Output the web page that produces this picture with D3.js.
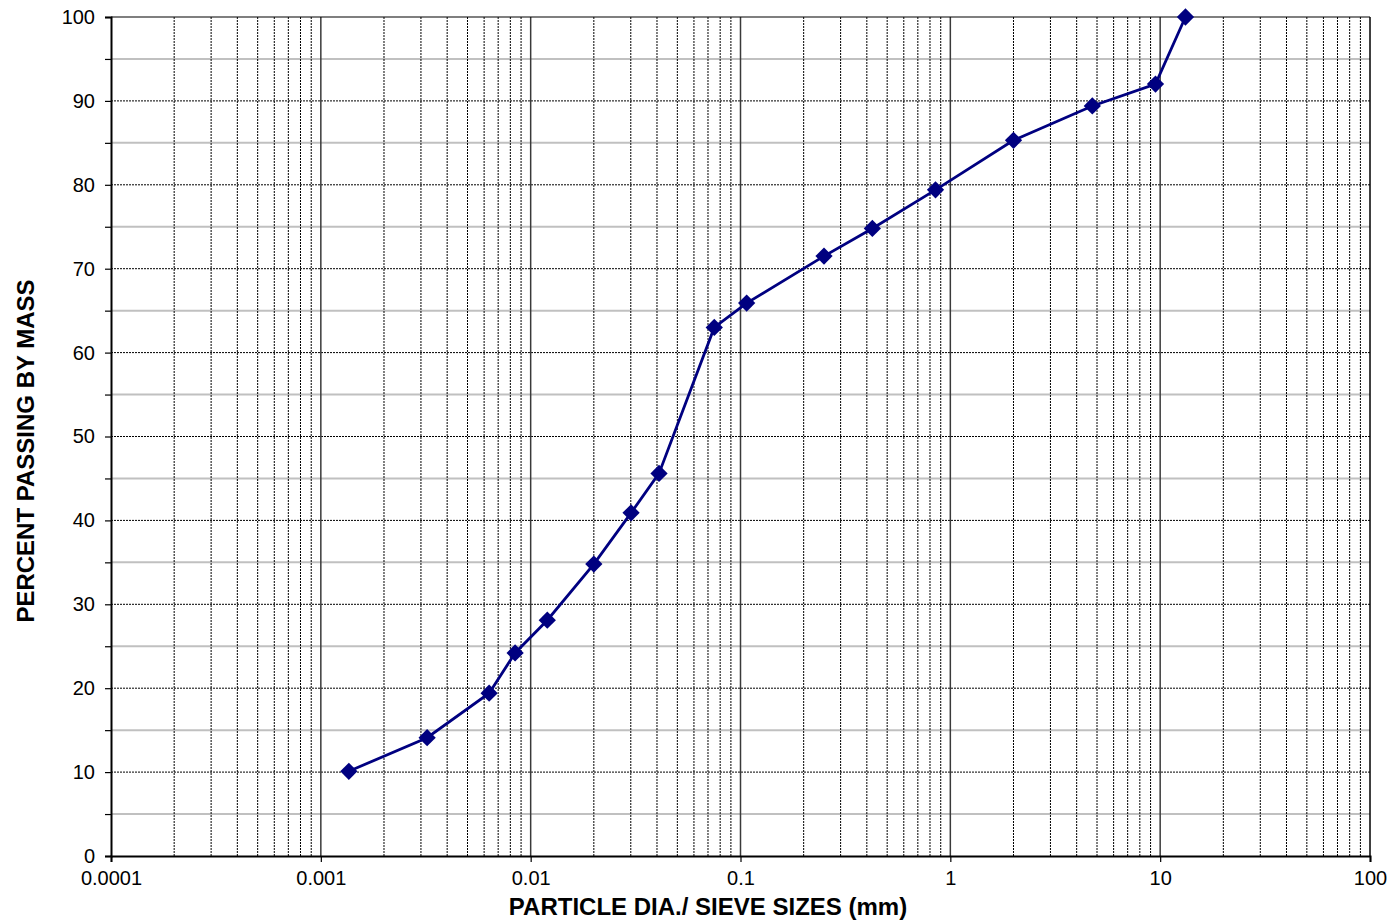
<!DOCTYPE html>
<html><head><meta charset="utf-8">
<script src="https://cdn.jsdelivr.net/npm/d3@7"></script>
<style>body{margin:0;background:#fff}svg{display:block}text{font-family:"Liberation Sans",Arial,sans-serif}</style>
</head><body>
<svg id="c" width="1392" height="922"></svg>
<script>
const sizes = [0.00136, 0.00321, 0.00634, 0.00843, 0.0120, 0.0200, 0.0301, 0.0409, 0.075, 0.107, 0.25, 0.425, 0.85, 2.0, 4.75, 9.5, 13.2];
const passing = [10.1, 14.1, 19.4, 24.2, 28.1, 34.8, 40.9, 45.6, 63.0, 65.9, 71.5, 74.8, 79.4, 85.3, 89.4, 92.0, 100];
const xTickLabels = ["0.0001", "0.001", "0.01", "0.1", "1", "10", "100"];
const yTickLabels = [0, 10, 20, 30, 40, 50, 60, 70, 80, 90, 100];

const svg = d3.select("#c");
const L = 111, R = 1370, T = 17, B = 856;
const x = d3.scaleLog().domain([0.0001, 100]).range([L, R]);
const y = d3.scaleLinear().domain([0, 100]).range([B, T]);

const g = svg.append("g");
for (let v = 5; v < 100; v += 10) {
  g.append("line").attr("x1", L).attr("x2", R).attr("y1", y(v)).attr("y2", y(v))
    .attr("stroke", "#c0c0c0").attr("stroke-width", 2);
}
for (let v = 10; v < 100; v += 10) {
  g.append("line").attr("x1", L).attr("x2", R).attr("y1", y(v)).attr("y2", y(v))
    .attr("stroke", "#000").attr("stroke-width", 1).attr("stroke-dasharray", "2,1");
}
const decades = xTickLabels.map(Number);
for (let i = 0; i < decades.length - 1; i++) {
  for (let k = 2; k <= 9; k++) {
    const xv = x(decades[i] * k);
    g.append("line").attr("x1", xv).attr("x2", xv).attr("y1", T).attr("y2", B)
      .attr("stroke", "#000").attr("stroke-width", 1).attr("stroke-dasharray", "2,1");
  }
}
for (let i = 1; i < decades.length - 1; i++) {
  const xv = x(decades[i]);
  g.append("line").attr("x1", xv).attr("x2", xv).attr("y1", T).attr("y2", B)
    .attr("stroke", "#3a3a3a").attr("stroke-width", 1.5);
}
g.append("line").attr("x1", L).attr("x2", R).attr("y1", T).attr("y2", T).attr("stroke", "#000").attr("stroke-width", 1.2);
g.append("line").attr("x1", R).attr("x2", R).attr("y1", T).attr("y2", B).attr("stroke", "#000").attr("stroke-width", 1.5);

const yAxis = d3.axisLeft(y).tickValues(d3.range(0, 101, 5)).tickSize(6)
  .tickFormat(d => yTickLabels.includes(d) ? d : "");
const ya = svg.append("g").attr("transform", `translate(${L},0)`).call(yAxis);
ya.select(".domain").attr("stroke", "#000").attr("stroke-width", 2);
ya.selectAll(".tick line").attr("stroke", "#000").attr("stroke-width", 1.2);
ya.selectAll(".tick text").attr("font-size", 20).attr("fill", "#000").attr("x", -16).attr("font-family", "Liberation Sans, Arial, sans-serif");

const xAxis = d3.axisBottom(x).tickValues(decades).tickSize(6).tickFormat((d, i) => xTickLabels[i]);
const xa = svg.append("g").attr("transform", `translate(0,${B})`).call(xAxis);
xa.select(".domain").attr("stroke", "#000").attr("stroke-width", 2);
xa.selectAll(".tick line").attr("stroke", "#000").attr("stroke-width", 1.2);
xa.selectAll(".tick text").attr("font-size", 20).attr("fill", "#000").attr("y", 15).attr("font-family", "Liberation Sans, Arial, sans-serif");

const pts = sizes.map((s, i) => [s, passing[i]]);
svg.append("path").datum(pts)
  .attr("d", d3.line().x(d => x(d[0])).y(d => y(d[1])))
  .attr("fill", "none").attr("stroke", "#000080").attr("stroke-width", 2.8);
svg.selectAll(".m").data(pts).enter().append("path")
  .attr("transform", d => `translate(${x(d[0])},${y(d[1])})`)
  .attr("d", d3.symbol().type(d3.symbolDiamond2).size(190))
  .attr("fill", "#000080");

svg.append("text").attr("x", 708).attr("y", 915).attr("text-anchor", "middle")
  .attr("font-size", 24).attr("font-weight", "bold").text("PARTICLE DIA./ SIEVE SIZES (mm)");
svg.append("text").attr("transform", "translate(34,451) rotate(-90)").attr("text-anchor", "middle")
  .attr("font-size", 24).attr("font-weight", "bold").text("PERCENT PASSING BY MASS");
</script>
</body></html>
